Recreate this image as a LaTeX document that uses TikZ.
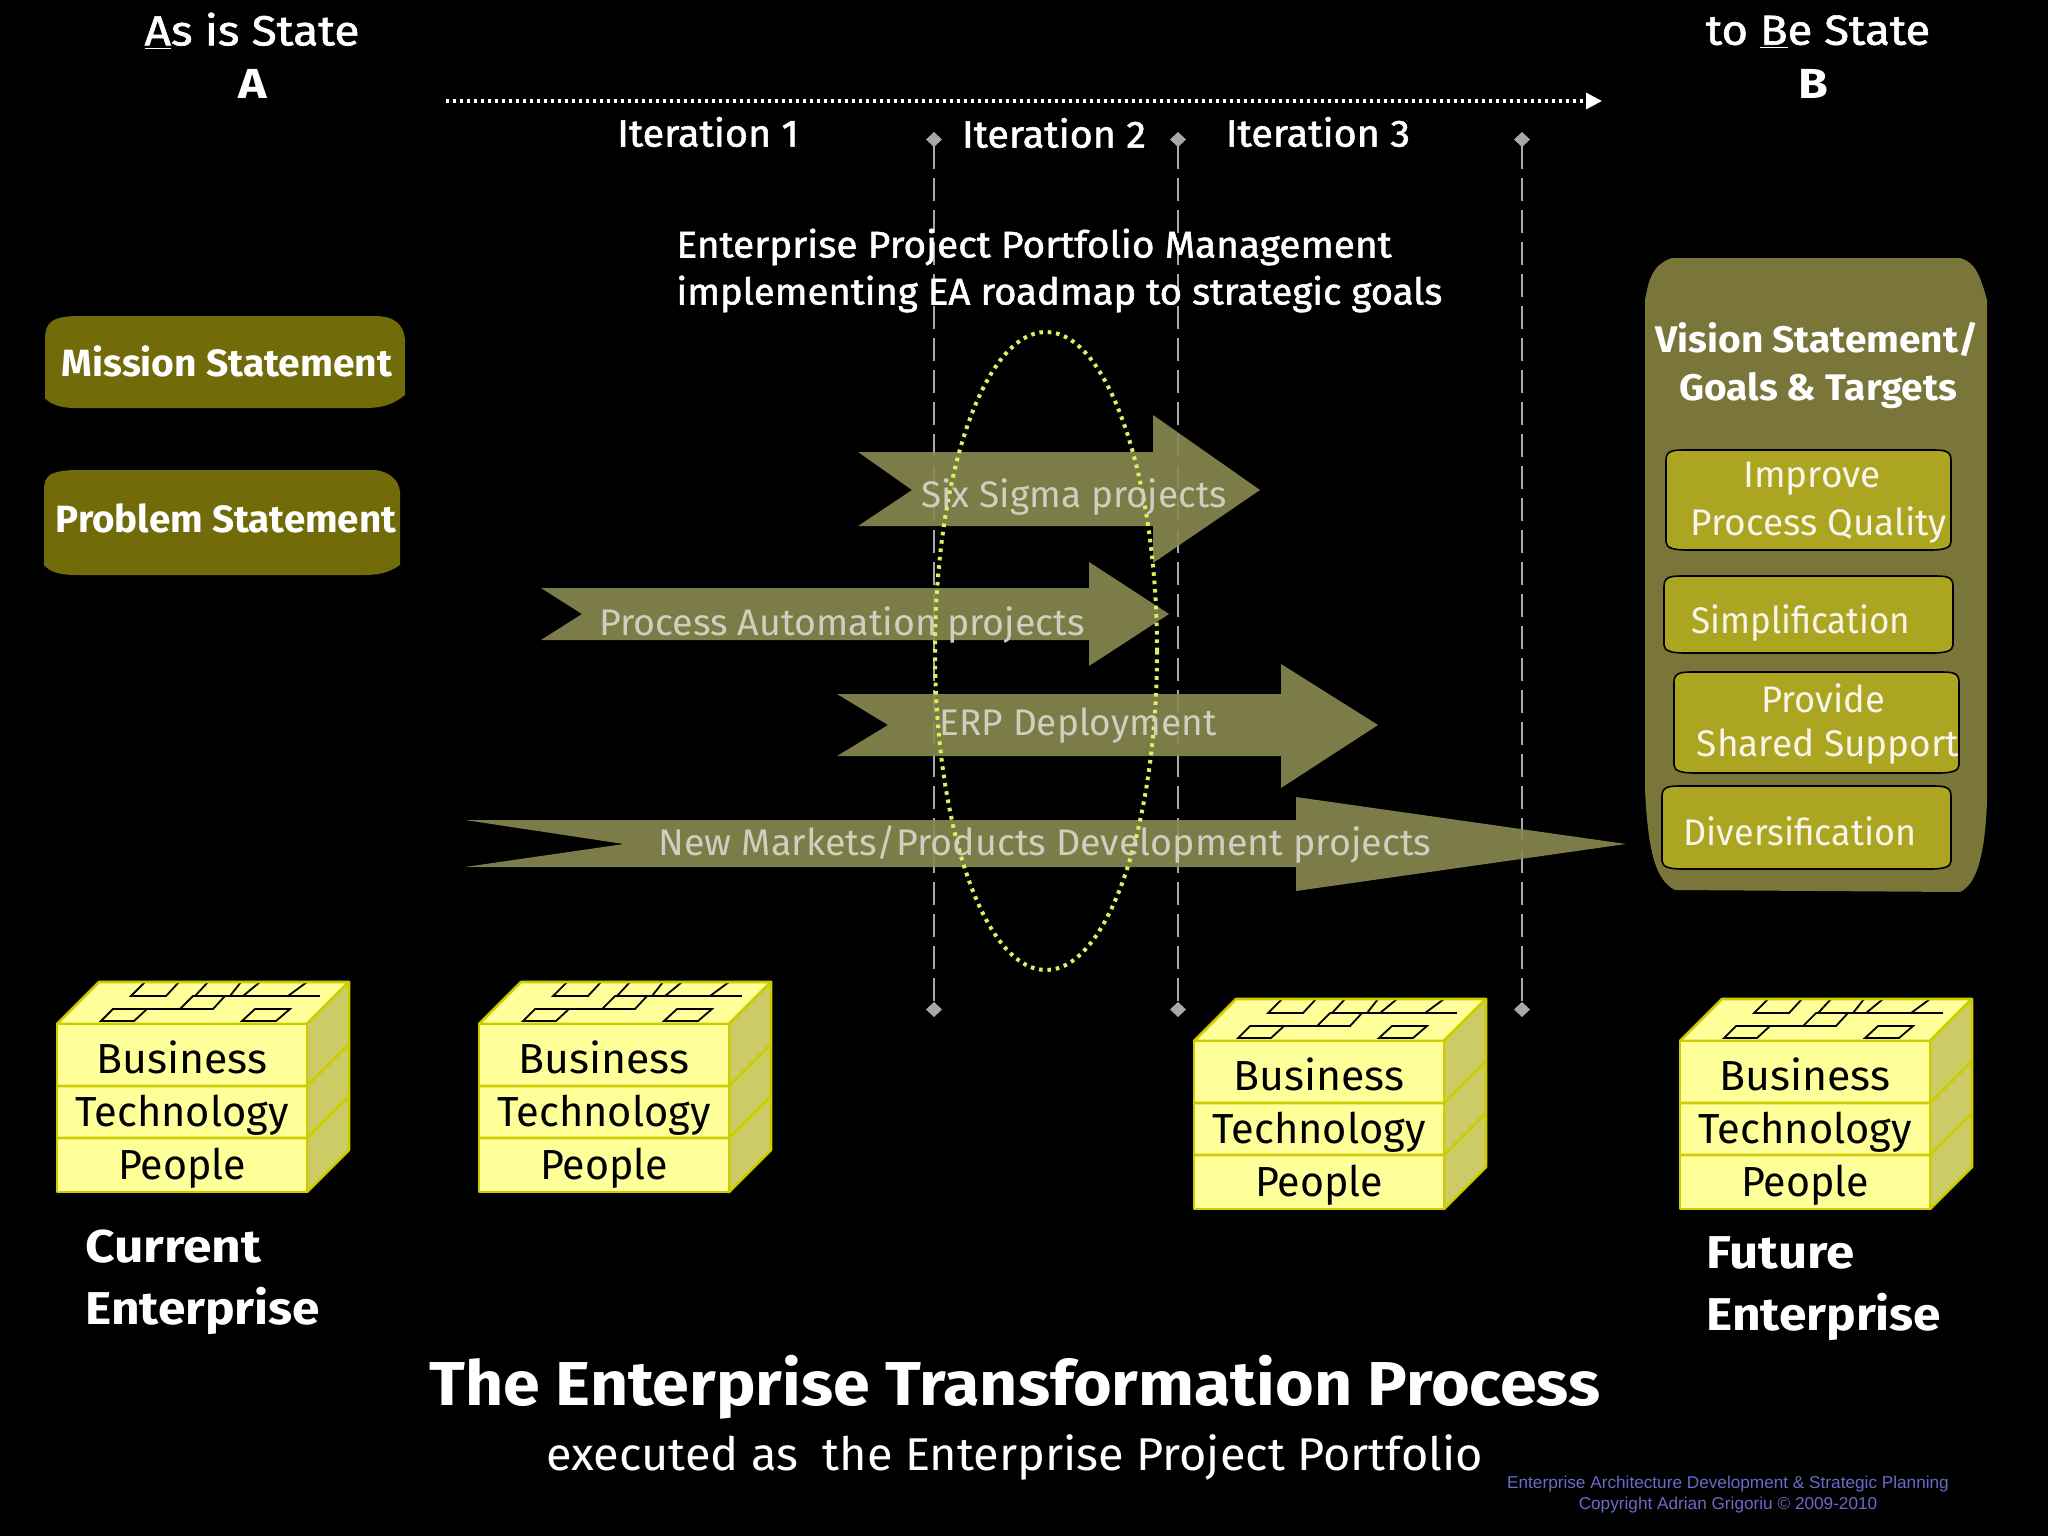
\documentclass[tikz,border=0pt]{standalone}
\usepackage{fontspec}
\setmainfont{Fira Sans}
\newfontfamily\smallsans{Liberation Sans}
\newfontfamily\semi[FakeBold=1.4]{Fira Sans}
\usetikzlibrary{calc,arrows.meta,shapes.geometric}
\definecolor{pillA}{HTML}{726B0A}
\definecolor{goalBg}{HTML}{7A763A}
\definecolor{goalIn}{HTML}{ABA522}
\definecolor{arrowFill}{HTML}{8A8A50}
\definecolor{arrowText}{HTML}{CFCFC0}
\definecolor{cubeFront}{HTML}{FFFF99}
\definecolor{cubeEdge}{HTML}{CCCC00}
\definecolor{cubeSide}{HTML}{CCCC66}
\definecolor{ringCol}{HTML}{DDF060}
\definecolor{footer}{HTML}{6A6AC8}
\definecolor{guide}{HTML}{A8A8A8}
\newcommand{\txt}[3]{\fontsize{#1}{#1}\selectfont\scalebox{#2}[1]{#3}}
\newcommand{\blockbox}[3]{%
  % #1 prefix, #2 left x, #3 top y of the front face
  \begin{scope}[shift={(#2,#3)}]
    \fill[cubeFront] (0,0) -- (42,-42) -- (292,-42) -- (250,0) -- cycle;
    \draw[planline] (88,-42) -- (74,-28) -- (109,-28) -- (122,-42);
    \draw[planline] (151,-42) -- (138,-28) -- (173,-28) -- (184,-42);
    \draw[planline] (173,-28) -- (186,-28) -- (231,-28) -- (250,-42);
    \draw[planline] (186,-28) -- (203,-42);
    \draw[planline] (231,-28) -- (263,-28);
    \draw[planline] (44,-3) -- (77,-3) -- (90,-15) -- (56,-15) -- cycle;
    \draw[planline] (185,-3) -- (219,-3) -- (233,-15) -- (198,-15) -- cycle;
    \draw[planline] (90,-15) -- (123,-15);
    \draw[planline] (123,-15) -- (156,-15) -- (168,-28) -- (136,-28) -- cycle;
    \draw[cubeline] (0,0) -- (42,-42) -- (292,-42) -- (250,0) -- cycle;
    \draw[cubeline,fill=cubeSide] (250,0) -- (292,-42) -- (292,126) -- (250,168) -- cycle;
    \draw[cubeline,fill=cubeFront] (0,0) rectangle (250,168);
    \draw[cubeline] (0,62) -- (250,62) -- (292,20);
    \draw[cubeline] (0,114) -- (250,114) -- (292,72);
    \node[cubetext] (#1b) at (125,33) {\txt{21}{1.02}{Business}};
    \node[cubetext] (#1t) at (125,91) {\txt{21}{.99}{Technology}};
    \node[cubetext] (#1p) at (125,144) {\txt{21}{.98}{People}};
  \end{scope}}
\tikzset{
  cubeline/.style={draw=cubeEdge,line width=1.3pt,line join=round},
  planline/.style={draw=black,line width=0.9pt},
  cubetext/.style={text=black,inner sep=0pt,anchor=center},
  head/.style={text=white,inner sep=0pt,font=\bfseries},
  semihead/.style={text=white,inner sep=0pt,font=\semi},
  pill/.style={fill=pillA,draw=none},
  goalpill/.style={fill=goalIn,draw=black,line width=0.8pt},
  lane/.style={draw=guide,line width=1pt,dash pattern=on 11.5pt off 4.5pt,
     {Diamond[fill=guide,length=7.5pt,width=8pt]}-{Diamond[fill=guide,length=7.5pt,width=8pt]}},
  bigarrow/.style={fill=arrowFill,draw=none,fill opacity=.9},
  arrowlabel/.style={text=arrowText,inner sep=0pt},
  goaltext/.style={text=white!90!goalIn,inner sep=0pt},
}
\newcommand{\goalbox}[4]{\draw[goalpill] (#1,{#2+10}) .. controls (#1,#2) and ({#1+8},#2) .. ({#1+20},#2) -- ({#3-20},#2) .. controls ({#3-8},#2) and (#3,#2) .. (#3,{#2+10}) -- (#3,{#4-8}) .. controls (#3,{#4-2}) and ({#3-8},#4) .. ({#3-20},#4) -- ({#1+20},#4) .. controls ({#1+8},#4) and (#1,{#4-2}) .. (#1,{#4-8}) -- cycle;}
\begin{document}
\begin{tikzpicture}[x=0.5pt,y=-0.5pt]
\useasboundingbox[fill=black] (0,0) rectangle (2048,1536);
% left pills
\fill[pill] (45,340) .. controls (45,322) and (52,317) .. (75,316) -- (375,316) .. controls (395,316) and (404,325) .. (405,340) -- (405,395) .. controls (395,403) and (385,408) .. (365,408) -- (75,408) .. controls (60,408) and (50,404) .. (45,398) -- cycle;
\fill[pill] (44,490) .. controls (44,474) and (52,471) .. (75,470) -- (375,470) .. controls (390,472) and (399,480) .. (400,492) -- (400,565) .. controls (390,572) and (380,575) .. (365,575) -- (75,575) .. controls (60,575) and (50,572) .. (44,565) -- cycle;
\node[head] (mission) at (227,361) {\txt{19}{1.025}{Mission Statement}};
\node[head] (problem) at (226,518) {\txt{19}{1.015}{Problem Statement}};
% top headings
\node[semihead] (asis) at (252,31) {\txt{21}{1.1}{\underline{A}s is State}};
\node[head] (a) at (253,84) {\txt{21}{1.15}{A}};
\node[semihead] (tobe) at (1818,32) {\txt{21}{1.08}{to \underline{B}e State}};
\node[head] (b) at (1813,84) {\txt{21}{1.15}{B}};
% timeline
\coordinate (tlstart) at (446,101);
\coordinate (tlend) at (1602,101);
\draw[white,line width=1.6pt,dash pattern=on 1.4pt off 2.1pt,-{Triangle[fill=white,length=8pt,width=8pt]}] (tlstart) -- (tlend);
\node[semihead] (it1) at (708,132) {\txt{19}{1.04}{Iteration 1}};
\node[semihead] (it2) at (1054,133) {\txt{19}{1.04}{Iteration 2}};
\node[semihead] (it3) at (1318,132) {\txt{19}{1.04}{Iteration 3}};
% lanes
\coordinate (l1t) at (934,132); \coordinate (l1b) at (934,1017);
\coordinate (l2t) at (1178,132); \coordinate (l2b) at (1178,1017);
\coordinate (l3t) at (1522,132); \coordinate (l3b) at (1522,1017);
\draw[lane] (l1t) -- (l1b);
\draw[lane] (l2t) -- (l2b);
\draw[lane] (l3t) -- (l3b);
\node[semihead,anchor=west] (epm) at (676,247) {\txt{18.5}{1.05}{Enterprise Project Portfolio Management}};
\node[semihead,anchor=west] (epm2) at (676,294) {\txt{18.5}{1.035}{implementing EA roadmap to strategic goals}};
% arrows
\fill[bigarrow] (858,452) -- (1153,452) -- (1153,415) -- (1260,490) -- (1153,563) -- (1153,526) -- (858,526) -- (912,490) -- cycle;
\fill[bigarrow] (541,588) -- (1089,588) -- (1089,562) -- (1169,614) -- (1089,666) -- (1089,640) -- (541,640) -- (582,614) -- cycle;
\fill[bigarrow] (837,694) -- (1281,694) -- (1281,664) -- (1378,725) -- (1281,788) -- (1281,756) -- (837,756) -- (888,725) -- cycle;
\fill[bigarrow] (465,820) -- (1296,820) -- (1296,797) -- (1626,844) -- (1296,891) -- (1296,867) -- (465,867) -- (624,844) -- cycle;
% ellipse
\coordinate (focus) at (1046,651);
\draw[draw=ringCol,line width=2pt,dash pattern=on 1.8pt off 2.4pt] (focus) ellipse [x radius=111,y radius=319];
\node[arrowlabel] (six) at (1074,497) {\txt{18.5}{1}{Six Sigma projects}};
\node[arrowlabel] (pa) at (842,625) {\txt{18.5}{1.016}{Process Automation projects}};
\node[arrowlabel] (erp) at (1078,726) {\txt{18.5}{1}{ERP Deployment}};
\node[arrowlabel] (nm) at (1045,844) {\txt{18.5}{1.017}{New Markets/Products Development projects}};
% goals panel
\fill[goalBg] (1672,258) .. controls (1650,265) and (1648,285) .. (1645,300) -- (1645,790) .. controls (1648,850) and (1655,880) .. (1675,890) -- (1960,892) .. controls (1975,885) and (1985,860) .. (1987,800) -- (1987,300) .. controls (1980,275) and (1975,262) .. (1960,258) -- cycle;
\goalbox{1666}{450}{1951}{550}
\goalbox{1664}{576}{1953}{653}
\goalbox{1674}{672}{1959}{773}
\goalbox{1662}{786}{1951}{869}
\node[head] (vision) at (1817,339) {\txt{18.5}{1.05}{Vision Statement/}};
\node[head] (goals) at (1818,391) {\txt{18.5}{1.05}{Goals \& Targets}};
\node[goaltext] (g1a) at (1812,479) {\txt{18.5}{1}{Improve}};
\node[goaltext] (g1b) at (1819,525) {\txt{18.5}{1}{Process Quality}};
\node[goaltext] (g2) at (1801,623) {\txt{18.5}{.945}{Simplification}};
\node[goaltext] (g3a) at (1823,698) {\txt{18.5}{.98}{Provide}};
\node[goaltext] (g3b) at (1828,747) {\txt{18.5}{1}{Shared Support}};
\node[goaltext] (g4) at (1800,831) {\txt{18.5}{.97}{Diversification}};
% cubes
\blockbox{c1}{57}{1024}
\blockbox{c2}{479}{1024}
\blockbox{c3}{1194}{1041}
\blockbox{c4}{1680}{1041}
\node[head,anchor=west] (cur) at (85,1247) {\txt{23}{1.12}{Current}};
\node[head,anchor=west] (cur2) at (85,1311) {\txt{23}{1.08}{Enterprise}};
\node[head,anchor=west] (fut) at (1706,1253) {\txt{23}{1.11}{Future}};
\node[head,anchor=west] (fut2) at (1706,1317) {\txt{23}{1.08}{Enterprise}};
\node[head] (title) at (1015,1387) {\txt{31}{1.07}{The Enterprise Transformation Process}};
\node[text=white,inner sep=0pt,anchor=west] (sub) at (546,1457) {\txt{23}{1.02}{executed as\ \ the Enterprise Project Portfolio}};
\node[text=footer,inner sep=0pt,align=center,font=\smallsans\fontsize{8.6}{10.5}\selectfont] (foot) at (1728,1495) {Enterprise Architecture Development \& Strategic Planning\\Copyright Adrian Grigoriu © 2009-2010};
\end{tikzpicture}
\end{document}
